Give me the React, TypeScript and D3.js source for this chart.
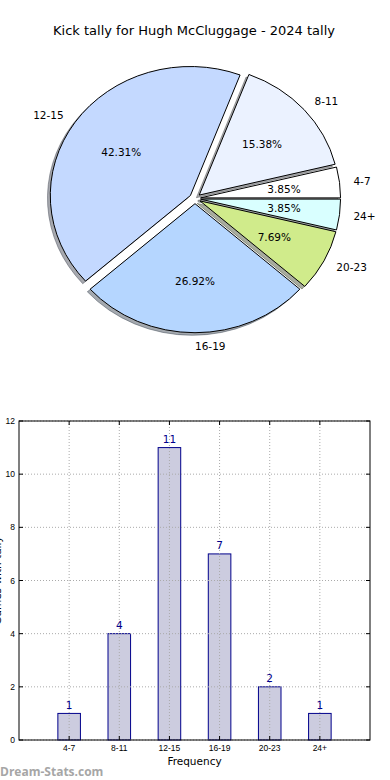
import React from 'react';
import * as d3 from 'd3';

const title = 'Kick tally for Hugh McCluggage - 2024 tally';
const categories = ['4-7', '8-11', '12-15', '16-19', '20-23', '24+'];
const counts = [1, 4, 11, 7, 2, 1];
const pieColors = ['#ffffff', '#ebf2ff', '#c4d9ff', '#b5d6ff', '#d0eb8b', '#d9ffff'];
const yTicks = [0, 2, 4, 6, 8, 10, 12];
const xLabel = 'Frequency';
const yLabel = 'Games with tally';
const watermark = 'Dream-Stats.com';

const W = 390;
const H = 780;

// pie geometry (slightly elliptical, like the source)
const cx = 195;
const cy = 198.5;
const rx = 140;
const ry = 129;
const explode = 0.04;

// bar chart frame
const frame = { left: 19, right: 370, top: 421, bottom: 740 };

function shade(c: string) {
  const col = d3.rgb(c);
  return d3.rgb(col.r * 0.3, col.g * 0.3, col.b * 0.3).toString();
}

export default function App() {
  const total = d3.sum(counts);
  const arcs = d3.pie<number>()
    .sort(null)
    .startAngle(Math.PI / 2)
    .endAngle(Math.PI / 2 - 2 * Math.PI)(counts);
  const arcGen = d3.arc<any>().innerRadius(0).outerRadius(1);

  const slices = arcs.map((a, i) => {
    const mid = (a.startAngle + a.endAngle) / 2;
    const ux = Math.sin(mid);
    const uy = -Math.cos(mid);
    return {
      i,
      d: arcGen({ startAngle: a.startAngle, endAngle: a.endAngle }) as string,
      ox: cx + explode * rx * ux,
      oy: cy + explode * ry * uy,
      ux,
      uy,
    };
  });

  const x = d3.scaleLinear().domain([-1, 6]).range([frame.left, frame.right]);
  const y = d3.scaleLinear().domain([0, 12]).range([frame.bottom, frame.top]);
  const barW = x(0.45) - x(0);
  const font = 'DejaVu Sans, sans-serif';

  return (
    <svg width={W} height={H} style={{ position: 'absolute', left: 0, top: 0, background: '#fff' }}>
      <text x={194} y={30} textAnchor="middle" dominantBaseline="central"
        fontFamily={font} fontSize={13} fill="#000">{title}</text>

      {/* shadows */}
      {slices.map(s => (
        <path key={'sh' + s.i} d={s.d}
          transform={`translate(${s.ox - 0.02 * rx},${s.oy + 0.02 * ry}) scale(${rx},${ry})`}
          fill={shade(pieColors[s.i])} stroke={shade(pieColors[s.i])} fillOpacity={0.45} strokeOpacity={0.45}
          strokeWidth={1} vectorEffect="non-scaling-stroke" />
      ))}
      {/* wedges */}
      {slices.map(s => (
        <path key={'w' + s.i} d={s.d}
          transform={`translate(${s.ox},${s.oy}) scale(${rx},${ry})`}
          fill={pieColors[s.i]} stroke="#000" strokeWidth={1} vectorEffect="non-scaling-stroke" />
      ))}
      {slices.map(s => {
        const lr = 1.1 + explode;
        const pr = 0.6 + explode;
        return (
          <g key={'t' + s.i} fontFamily={font} fontSize={10.5} fill="#000">
            <text x={cx + lr * rx * s.ux} y={cy + lr * ry * s.uy}
              textAnchor={s.ux > -1e-9 ? 'start' : 'end'} dominantBaseline="central">{categories[s.i]}</text>
            <text x={cx + pr * rx * s.ux} y={cy + pr * ry * s.uy}
              textAnchor="middle" dominantBaseline="central">{(counts[s.i] / total * 100).toFixed(2) + '%'}</text>
          </g>
        );
      })}

      {/* bars */}
      {counts.map((c, i) => (
        <rect key={'b' + i} x={x(i) - barW / 2} y={y(c)} width={barW} height={y(0) - y(c)}
          fill="#ccccdf" stroke="#00008b" strokeWidth={1} />
      ))}

      {/* grid */}
      {yTicks.map(t => (
        <line key={'gy' + t} x1={frame.left} x2={frame.right} y1={y(t)} y2={y(t)}
          stroke="#aaaaaa" strokeWidth={1} strokeDasharray="1,2" />
      ))}
      {categories.map((c, i) => (
        <line key={'gx' + c} x1={x(i)} x2={x(i)} y1={frame.top} y2={frame.bottom}
          stroke="#aaaaaa" strokeWidth={1} strokeDasharray="1,2" />
      ))}

      {/* ticks */}
      {yTicks.map(t => (
        <g key={'ty' + t}>
          <line x1={frame.left} x2={frame.left + 4} y1={y(t)} y2={y(t)} stroke="#000" />
          <line x1={frame.right - 4} x2={frame.right} y1={y(t)} y2={y(t)} stroke="#000" />
          <text x={frame.left - 4} y={y(t)} textAnchor="end" dominantBaseline="central"
            fontFamily="Liberation Sans, sans-serif" fontSize={8.5} fill="#000">{t}</text>
        </g>
      ))}
      {categories.map((c, i) => (
        <g key={'tx' + c}>
          <line x1={x(i)} x2={x(i)} y1={frame.bottom} y2={frame.bottom - 4} stroke="#000" />
          <line x1={x(i)} x2={x(i)} y1={frame.top} y2={frame.top + 4} stroke="#000" />
          <text x={x(i)} y={frame.bottom + 8} textAnchor="middle" dominantBaseline="central"
            fontFamily="Liberation Sans, sans-serif" fontSize={8.5} fill="#000">{c}</text>
        </g>
      ))}

      {/* value labels */}
      {counts.map((c, i) => (
        <text key={'v' + i} x={x(i)} y={y(c) - 4.5} textAnchor="middle"
          fontFamily={font} fontSize={10.5} fill="#00008b">{c}</text>
      ))}

      <rect x={frame.left} y={frame.top} width={frame.right - frame.left} height={frame.bottom - frame.top}
        fill="none" stroke="#000" strokeWidth={1} />

      <text x={(frame.left + frame.right) / 2} y={761} textAnchor="middle" dominantBaseline="central"
        fontFamily={font} fontSize={10.5} fill="#000">{xLabel}</text>
      <text transform={`translate(1,${(frame.top + frame.bottom) / 2}) rotate(-90)`} textAnchor="middle"
        fontFamily={font} fontSize={10.5} fill="#000">{yLabel}</text>

      <text x={0} y={771} dominantBaseline="central" fontFamily="Open Sans, sans-serif" fontWeight="bold"
        fontSize={12} fill="#a6a6a6">{watermark}</text>
    </svg>
  );
}
